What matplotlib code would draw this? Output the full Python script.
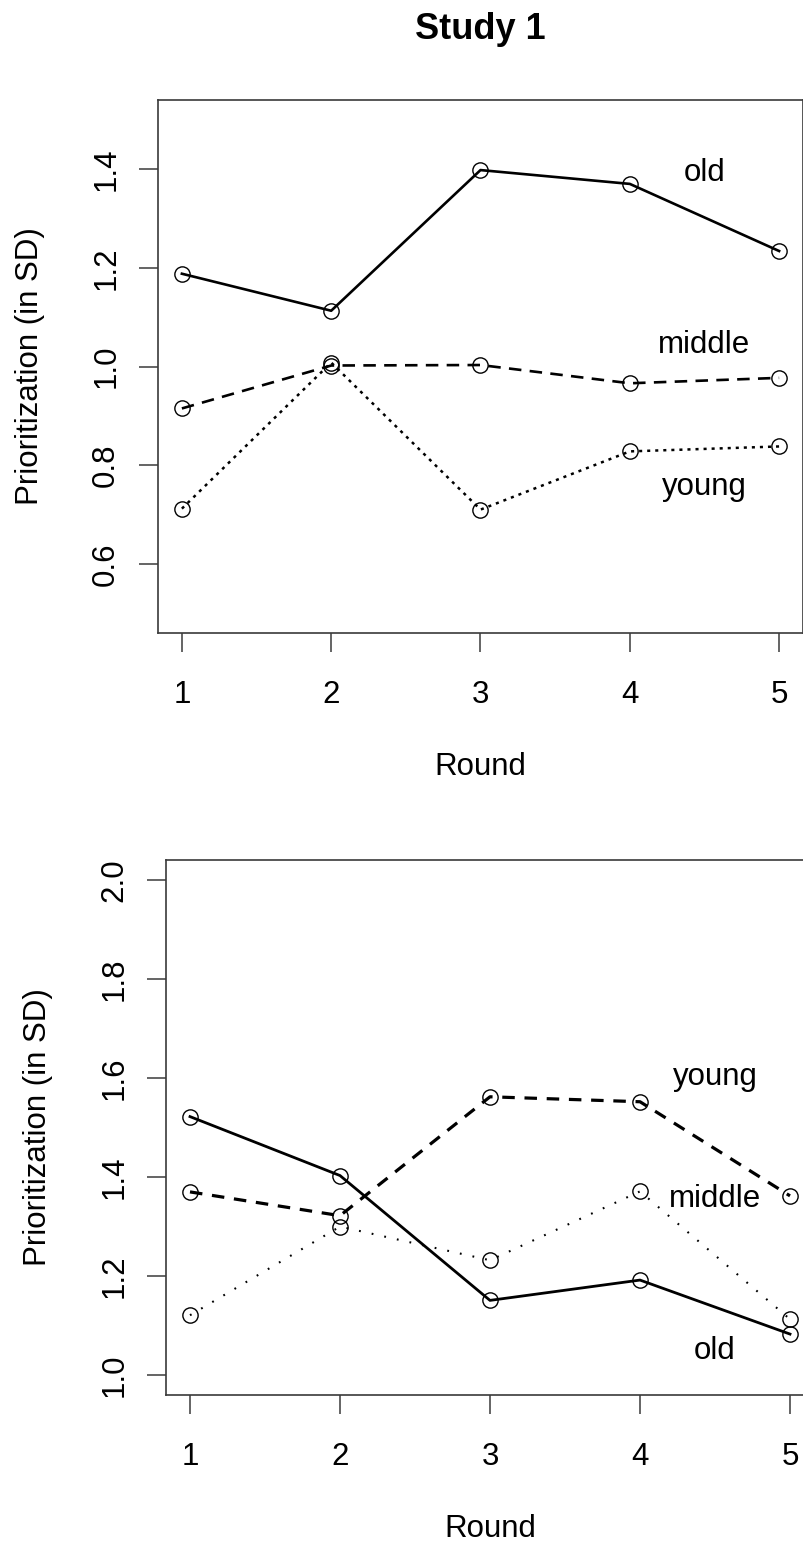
import matplotlib
matplotlib.use("Agg")
from matplotlib import pyplot as plt

plt.rcParams['font.family'] = ['Liberation Sans', 'DejaVu Sans']
plt.rcParams['lines.scale_dashes'] = False

rounds = [1, 2, 3, 4, 5]

# Study 1 (top panel)
study1_old = [1.188, 1.113, 1.398, 1.370, 1.234]
study1_middle = [0.915, 1.002, 1.003, 0.966, 0.977]
study1_young = [0.712, 1.008, 0.710, 0.828, 0.838]
study1_yticks = [0.6, 0.8, 1.0, 1.2, 1.4]
study1_labels = ["old", "middle", "young"]
study1_label_y = [1.376, 1.027, 0.740]

# second panel
study2_old = [1.522, 1.403, 1.151, 1.192, 1.083]
study2_young = [1.370, 1.322, 1.562, 1.552, 1.362]
study2_middle = [1.121, 1.300, 1.232, 1.371, 1.113]
study2_yticks = [1.0, 1.2, 1.4, 1.6, 1.8, 2.0]
study2_labels = ["young", "middle", "old"]
study2_label_y = [1.586, 1.340, 1.032]

label_x = 4.5
frame_color = "#3a3a3a"


def style_axes(ax, yticks, ylim, height_px, width_px):
    ax.set_xlim(0.84, 5.16)
    ax.set_ylim(*ylim)
    for spine in ax.spines.values():
        spine.set_color(frame_color)
        spine.set_linewidth(1.2)
    ax.set_xticks(rounds)
    ax.set_xticklabels([str(r) for r in rounds])
    ax.set_yticks(yticks)
    ax.set_yticklabels([f"{t:.1f}" for t in yticks])
    ax.tick_params(axis='both', direction='out', length=13.5, width=1.1,
                   color=frame_color, labelsize=22.5)
    ax.tick_params(axis='x', pad=20)
    ax.tick_params(axis='y', pad=13)
    for lab in ax.get_yticklabels():
        lab.set_rotation(90)
        lab.set_va('center')
    ax.text(0.5, -134 / height_px, "Round", transform=ax.transAxes,
            fontsize=22.5, ha='center', va='center')
    ax.text(-128 / width_px, 0.5, "Prioritization (in SD)", transform=ax.transAxes,
            fontsize=22.5, ha='center', va='center', rotation=90)


def draw_line(ax, y, ls, lw):
    ax.plot(rounds, y, color='black', linestyle=ls, linewidth=lw,
            marker='o', markersize=11, markerfacecolor='none',
            markeredgecolor='black', markeredgewidth=1.0)


fig = plt.figure(figsize=(8.04, 15.44), dpi=100)

ax1 = fig.add_axes([158 / 804, 1 - 633 / 1544, 645 / 804, 533 / 1544])
draw_line(ax1, study1_old, '-', 1.9)
draw_line(ax1, study1_middle, (0, (9, 6)), 1.9)
draw_line(ax1, study1_young, (0, (2.2, 3.6)), 1.8)
for name, ly in zip(study1_labels, study1_label_y):
    ax1.text(label_x, ly, name, fontsize=22.5, ha='center', va='baseline')
style_axes(ax1, study1_yticks, (0.46, 1.54), 533, 645)

fig.text(480 / 804, 1 - 39 / 1544, "Study 1", fontsize=26, fontweight='bold',
         ha='center', va='baseline')

ax2 = fig.add_axes([166 / 804, 1 - 1395 / 1544, 648 / 804, 535 / 1544])
draw_line(ax2, study2_old, '-', 2.0)
draw_line(ax2, study2_young, (0, (9, 7)), 2.3)
draw_line(ax2, study2_middle, (0, (1.3, 8)), 1.5)
for name, ly in zip(study2_labels, study2_label_y):
    ax2.text(label_x, ly, name, fontsize=22.5, ha='center', va='baseline')
style_axes(ax2, study2_yticks, (0.96, 2.04), 535, 648)

plt.savefig("out.png", dpi=100)
